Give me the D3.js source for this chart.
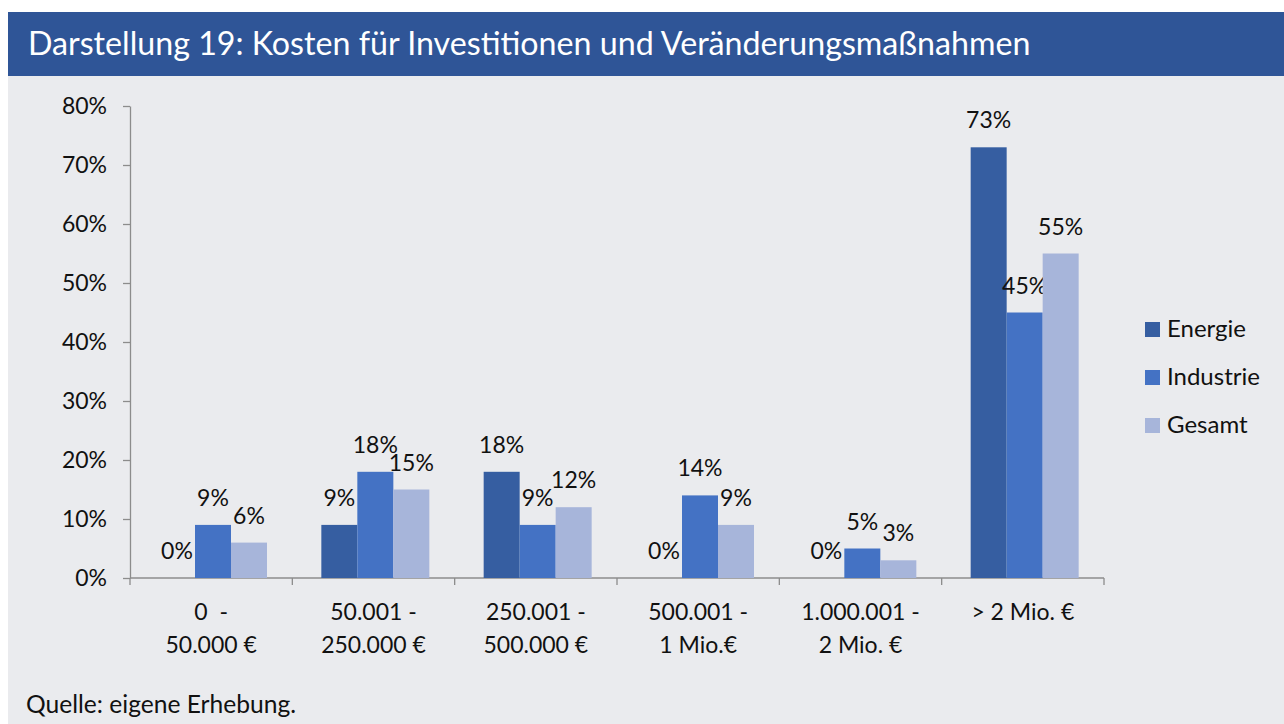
<!DOCTYPE html>
<html>
<head>
<meta charset="utf-8">
<script src="https://cdn.jsdelivr.net/npm/d3@7"></script>
<style>
  body { margin: 0; background: #fff; }
  svg { font-family: Lato, "Open Sans", sans-serif; }
</style>
</head>
<body>
<svg id="chart" width="1284" height="724"></svg>
<script>
// data
const categories = [['0  -', '50.000 €'], ['50.001 -', '250.000 €'], ['250.001 -', '500.000 €'],
  ['500.001 -', '1 Mio.€'], ['1.000.001 -', '2 Mio. €'], ['> 2 Mio. €']]
const seriesNames = ['Energie', 'Industrie', 'Gesamt']
const energie = [0, 9, 18, 0, 0, 73]
const industrie = [9, 18, 9, 14, 5, 45]
const gesamt = [6, 15, 12, 9, 3, 55]
const yTicks = [0, 10, 20, 30, 40, 50, 60, 70, 80]
const colors = ['#365ea1', '#4472c4', '#a7b5da']

const values = [energie, industrie, gesamt]

const svg = d3.select('#chart')

// panel + title bar
svg.append('rect').attr('x', 8).attr('y', 12).attr('width', 1276).attr('height', 712).attr('fill', '#eaebee')
svg.append('rect').attr('x', 8).attr('y', 12).attr('width', 1276).attr('height', 64).attr('fill', '#2f5597')
svg.append('text')
  .attr('x', 28).attr('y', 55)
  .attr('fill', '#fff')
  .style('font-size', '32.2px')
  .text('Darstellung 19: Kosten für Investitionen und Veränderungsmaßnahmen')

const plot = { left: 130, right: 1104, top: 106, bottom: 578 }

const x = d3.scaleBand()
  .domain(d3.range(categories.length))
  .range([plot.left, plot.right])
  .paddingInner(0)
  .paddingOuter(0)

// bars sit a bit right of the band centre, as in the original
const inner = d3.scaleBand()
  .domain(d3.range(seriesNames.length))
  .range([29, 137])

const y = d3.scaleLinear().domain([0, 80]).range([plot.bottom, plot.top])

const axisColor = '#8c8c8c'

// y axis
const yAxis = svg.append('g')
  .attr('transform', `translate(${plot.left},0)`)
  .call(d3.axisLeft(y).tickValues(yTicks).tickSize(7).tickSizeOuter(0).tickPadding(16).tickFormat(d => d + '%'))
yAxis.select('.domain').attr('stroke', axisColor).attr('stroke-width', 1.3)
yAxis.selectAll('.tick line').attr('stroke', axisColor).attr('stroke-width', 1.3)
yAxis.selectAll('.tick text')
  .attr('fill', '#111').style('font-size', '23px').style('font-family', 'Lato, sans-serif')

// x axis line + ticks at band boundaries
svg.append('line')
  .attr('x1', plot.left).attr('x2', plot.right)
  .attr('y1', plot.bottom).attr('y2', plot.bottom)
  .attr('stroke', axisColor).attr('stroke-width', 1.3)
const bounds = d3.range(categories.length + 1).map(i => i < categories.length ? x(i) : plot.right)
svg.selectAll('.xtick').data(bounds).enter().append('line')
  .attr('class', 'xtick')
  .attr('x1', d => d).attr('x2', d => d)
  .attr('y1', plot.bottom).attr('y2', plot.bottom + 7)
  .attr('stroke', axisColor).attr('stroke-width', 1.3)

// category labels
const catLabels = svg.selectAll('.cat').data(categories).enter().append('text')
  .attr('class', 'cat')
  .attr('text-anchor', 'middle')
  .attr('fill', '#111')
  .style('font-size', '23px')
  .style('white-space', 'pre')
catLabels.each(function (d, i) {
  const cx = x(i) + x.bandwidth() / 2
  d3.select(this).selectAll('tspan').data(d).enter().append('tspan')
    .attr('x', cx)
    .attr('y', (t, j) => 620 + j * 33)
    .text(t => t)
})

// bars
const groups = svg.selectAll('.series').data(values).enter().append('g')
  .attr('class', 'series')
  .attr('fill', (d, s) => colors[s])

groups.each(function (vals, s) {
  const g = d3.select(this)
  g.selectAll('rect').data(vals).enter().append('rect')
    .attr('x', (v, i) => x(i) + inner(s))
    .attr('y', v => y(v))
    .attr('width', inner.bandwidth())
    .attr('height', v => plot.bottom - y(v))
  g.selectAll('text').data(vals).enter().append('text')
    .attr('x', (v, i) => x(i) + inner(s) + inner.bandwidth() / 2)
    .attr('y', v => y(v) - 19)
    .attr('text-anchor', 'middle')
    .attr('fill', '#111')
    .style('font-size', '23px')
    .text(v => v + '%')
})

// legend
const legend = svg.append('g').attr('transform', 'translate(1145,322)')
const items = legend.selectAll('g').data(seriesNames).enter().append('g')
  .attr('transform', (d, i) => `translate(0,${i * 48})`)
items.append('rect').attr('width', 15).attr('height', 15).attr('fill', (d, i) => colors[i])
items.append('text').attr('x', 22).attr('y', 15).attr('fill', '#111')
  .style('font-size', '24px').text(d => d)

// source
svg.append('text').attr('x', 26).attr('y', 713).attr('fill', '#111')
  .style('font-size', '24.6px').text('Quelle: eigene Erhebung.')
</script>
</body>
</html>
